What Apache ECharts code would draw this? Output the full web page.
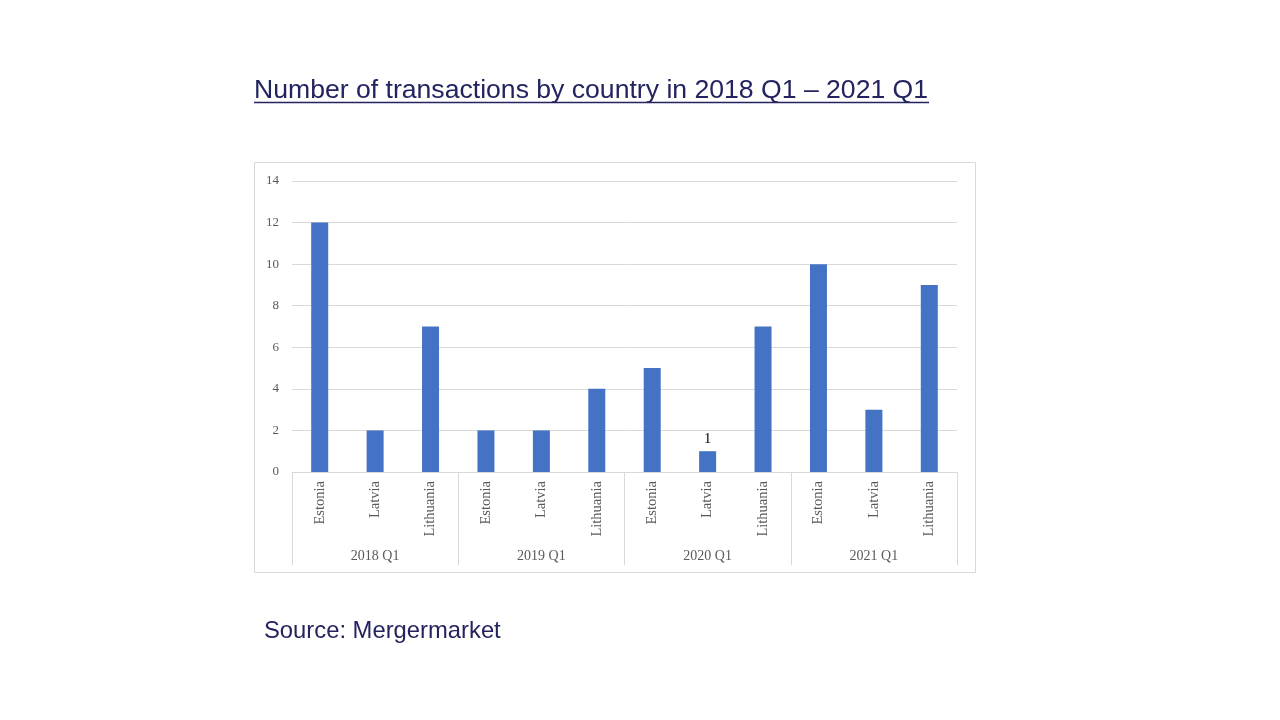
<!DOCTYPE html>
<html>
<head>
<meta charset="utf-8">
<script src="https://cdn.jsdelivr.net/npm/echarts@6/dist/echarts.min.js"></script>
<style>
  html, body { margin: 0; padding: 0; background: #fff; }
  #chart { width: 1280px; height: 720px; }
</style>
</head>
<body>
<div id="chart"></div>
<script>
var countries = ['Estonia', 'Latvia', 'Lithuania', 'Estonia', 'Latvia', 'Lithuania',
                 'Estonia', 'Latvia', 'Lithuania', 'Estonia', 'Latvia', 'Lithuania'];
var quarters = ['2018 Q1', '2019 Q1', '2020 Q1', '2021 Q1'];
var deals = [12, 2, 7, 2, 2, 4, 5, 1, 7, 10, 3, 9];
var labelledIndex = [7];   // only this bar carries a value label

var titleText = 'Number of transactions by country in 2018 Q1 \u2013 2021 Q1';
var sourceText = 'Source: Mergermarket';

var navy = '#23235f';
var gridGray = '#d9d9d9';
var labelGray = '#595959';
var serif = '"Liberation Serif", "DejaVu Serif", serif';

var myChart = echarts.init(document.getElementById('chart'));

var barData = deals.map(function (v, i) {
    if (labelledIndex.indexOf(i) >= 0) {
        return {value: v, label: {show: true}};
    }
    return v;
});

var option = {
    animation: false,
    textStyle: {fontFamily: serif},
    grid: {left: 292, right: 323, top: 181, bottom: 248, containLabel: false},
    graphic: [
        // chart frame
        {
            type: 'rect', z: -1,
            shape: {x: 254.5, y: 162.5, width: 721, height: 410},
            style: {fill: 'transparent', stroke: gridGray, lineWidth: 1}
        },
        {
            type: 'text', left: 254, top: 77,
            style: {text: titleText, fill: navy, font: '26.6px "Liberation Sans", Arial, sans-serif'}
        },
        {
            type: 'line',
            shape: {x1: 254, y1: 102.5, x2: 929, y2: 102.5},
            style: {stroke: navy, lineWidth: 1.5}
        },
        {
            type: 'text', left: 264, top: 619,
            style: {text: sourceText, fill: navy, font: '23.8px "Liberation Sans", Arial, sans-serif'}
        }
    ],
    xAxis: [
        {
            type: 'category',
            data: countries,
            position: 'bottom',
            axisLine: {show: true, lineStyle: {color: gridGray}},
            axisTick: {show: false},
            axisLabel: {rotate: 90, margin: 9, color: labelGray, fontSize: 14.5, fontFamily: serif}
        },
        {
            type: 'category',
            data: quarters,
            position: 'bottom',
            offset: 93,
            axisLine: {show: false},
            axisTick: {show: true, inside: true, length: 93, lineStyle: {color: gridGray}},
            axisLabel: {inside: true, margin: 2, color: labelGray, fontSize: 14, fontFamily: serif}
        }
    ],
    yAxis: {
        type: 'value',
        min: 0,
        max: 14,
        interval: 2,
        axisLine: {show: false},
        axisTick: {show: false},
        splitLine: {lineStyle: {color: gridGray}},
        axisLabel: {margin: 13, color: labelGray, fontSize: 13, fontFamily: serif}
    },
    series: [
        {
            type: 'bar',
            xAxisIndex: 0,
            data: barData,
            barWidth: 17,
            itemStyle: {color: '#4472c4'},
            label: {show: false, position: 'top', color: '#000', fontSize: 14.5, fontFamily: serif, distance: 5}
        }
    ]
};

myChart.setOption(option);
</script>
</body>
</html>
